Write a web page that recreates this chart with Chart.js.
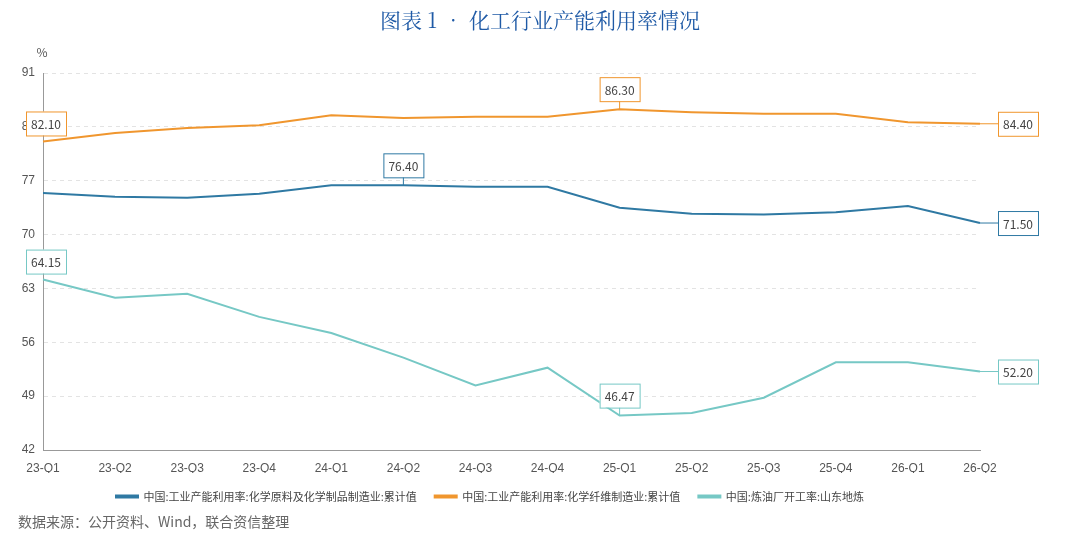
<!DOCTYPE html>
<html><head><meta charset="utf-8">
<script src="https://cdn.jsdelivr.net/npm/chart.js@4"></script>
<style>
body{margin:0;background:#fff;width:1080px;height:536px;overflow:hidden;position:relative;font-family:"Noto Sans CJK SC",sans-serif}
#title{position:absolute;top:4px;left:0;width:1080px;text-align:center;font-family:"Noto Serif CJK SC","Noto Sans CJK SC",serif;font-size:21px;color:#1f5aa6}
#src{position:absolute;left:18px;top:511px;font-size:14px;color:#666}
#c{position:absolute;left:0;top:0}
</style></head><body>
<canvas id="c" width="1080" height="536"></canvas>
<div id="title">图表 1 • 化工行业产能利用率情况</div>
<div id="src">数据来源：公开资料、Wind，联合资信整理</div>
<script>
var quarters = ['23-Q1','23-Q2','23-Q3','23-Q4','24-Q1','24-Q2','24-Q3','24-Q4','25-Q1','25-Q2','25-Q3','25-Q4','26-Q1','26-Q2'];
var chemRaw = [75.4,74.9,74.8,75.3,76.4,76.4,76.2,76.2,73.5,72.7,72.6,72.9,73.7,71.5];
var fiber = [82.1,83.2,83.85,84.2,85.5,85.15,85.3,85.3,86.3,85.9,85.7,85.7,84.6,84.4];
var refinery = [64.15,61.8,62.3,59.3,57.2,54.0,50.4,52.7,46.47,46.8,48.8,53.4,53.4,52.2];
var yTicks = [42,49,56,63,70,77,84,91];
var labelIdx = [[5,13],[0,8,13],[0,8,13]];

var labelPlugin = {
  id: 'valLabels',
  afterDatasetsDraw: function (chart) {
    var ctx = chart.ctx;
    ctx.save();
    ctx.font = '12px "Noto Sans CJK SC", sans-serif';
    ctx.textAlign = 'center'; ctx.textBaseline = 'middle';
    chart.data.datasets.forEach(function (ds, di) {
      var meta = chart.getDatasetMeta(di);
      labelIdx[di].forEach(function (i) {
        var p = meta.data[i];
        var txt = ds.data[i].toFixed(2);
        var w = 40, h = 24, cx, cy;
        ctx.strokeStyle = ds.borderColor; ctx.lineWidth = 1;
        if (i === 13) { cx = p.x + 38; cy = p.y; ctx.beginPath(); ctx.moveTo(p.x, p.y); ctx.lineTo(cx - w / 2, cy); ctx.stroke(); }
        else if (i === 0) { cx = p.x + 3; cy = p.y - 18; }
        else { cx = p.x; cy = p.y - 20; ctx.beginPath(); ctx.moveTo(p.x, p.y); ctx.lineTo(cx, cy + h / 2); ctx.stroke(); }
        ctx.fillStyle = '#fff';
        ctx.fillRect(cx - w / 2, cy - h / 2, w, h);
        ctx.strokeRect(cx - w / 2 + 0.5, cy - h / 2 + 0.5, w, h);
        ctx.fillStyle = '#444';
        ctx.fillText(txt, cx, cy + 1);
      });
    });
    ctx.fillStyle = '#555'; ctx.textAlign = 'center';
    ctx.fillText('%', 42, 52);
    ctx.restore();
  }
};

new Chart(document.getElementById('c'), {
  type: 'line',
  data: {
    labels: quarters,
    datasets: [
      { label: '中国:工业产能利用率:化学原料及化学制品制造业:累计值', data: chemRaw, borderColor: '#2f79a3', backgroundColor: '#2f79a3' },
      { label: '中国:工业产能利用率:化学纤维制造业:累计值', data: fiber, borderColor: '#f0962e', backgroundColor: '#f0962e' },
      { label: '中国:炼油厂开工率:山东地炼', data: refinery, borderColor: '#76c8c5', backgroundColor: '#76c8c5' }
    ]
  },
  options: {
    responsive: false, animation: false,
    elements: { point: { radius: 0 }, line: { borderWidth: 2, tension: 0 } },
    layout: { padding: { top: 73, right: 100, left: 0, bottom: 24 } },
    plugins: {
      tooltip: { enabled: false },
      legend: { position: 'bottom', labels: { boxWidth: 22, boxHeight: 2, padding: 18, color: '#444', font: { size: 11, family: '"Noto Sans CJK SC", sans-serif' } } }
    },
    scales: {
      y: {
        min: 42, max: 91,
        afterBuildTicks: function (a) { a.ticks = yTicks.map(function (v) { return { value: v }; }); },
        afterFit: function (a) { a.width = 43; },
        grid: { color: '#e3e3e3', drawTicks: false },
        border: { display: true, color: '#999', dash: [4, 4] },
        ticks: { color: '#555', padding: 8, font: { size: 12 } }
      },
      x: {
        offset: false,
        grid: { display: false },
        border: { color: '#999' },
        ticks: { color: '#555', maxRotation: 0, font: { size: 12 } },
        afterFit: function (a) { a.height = 23; }
      }
    }
  },
  plugins: [labelPlugin]
});
</script>
</body></html>
